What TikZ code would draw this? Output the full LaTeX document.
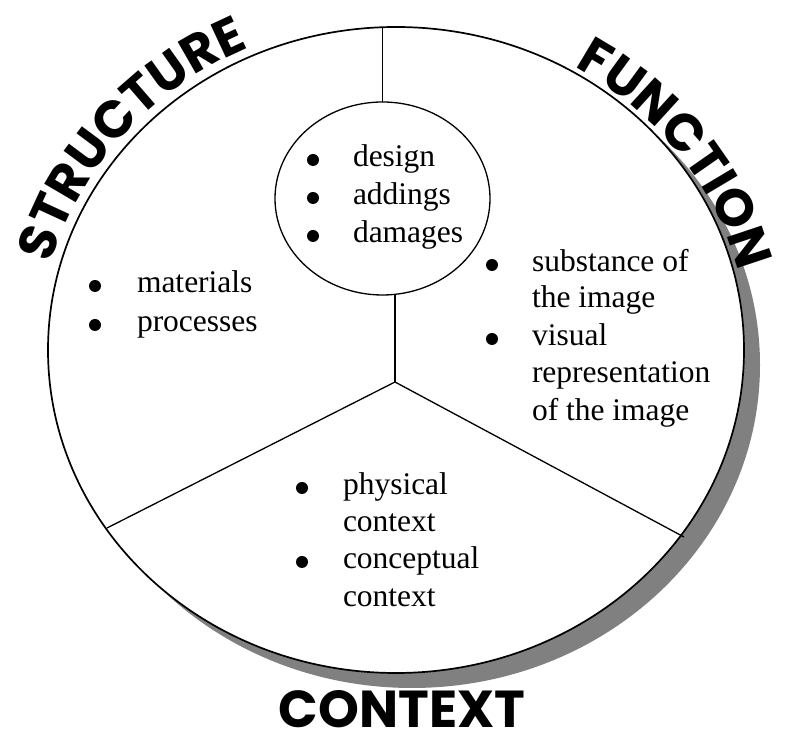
\documentclass[tikz,border=0pt]{standalone}
\usepackage{fontspec}
\setmainfont{Liberation Serif}
\newfontfamily\titlefam{Poppins}
\usetikzlibrary{shapes.geometric,decorations.text}
\newcommand\titlefont{\titlefam\bfseries\fontsize{52}{52}\selectfont}
\newcommand\ctxfont{\titlefam\bfseries\fontsize{52}{52}\selectfont}
\newcommand\bodyfont{\rmfamily\fontsize{31.5}{37.5}\selectfont}
\definecolor{shadowgray}{RGB}{128,128,128}
\tikzset{
  ring/.style={ellipse, draw=black, line width=1.7pt, fill=white, inner sep=0pt, outer sep=0pt},
  divider/.style={line width=1.3pt, draw=black},
  txt/.style={font=\bodyfont, anchor=base west, inner sep=0pt, outer sep=0pt},
  bul/.style={circle, fill=black, minimum size=12pt, inner sep=0pt, outer sep=0pt},
  title/.style={font=\ctxfont, anchor=base, inner sep=0pt}
}
\begin{document}
\begin{tikzpicture}[x=1pt,y=1pt]
\useasboundingbox (0,0) rectangle (796,733);
% shadow
\fill[shadowgray] (412,368) ellipse [x radius=348, y radius=323];
% main disc
\node[ring, minimum width=696pt, minimum height=646pt] (outer) at (396,383) {};
% inner disc
\node[ring, line width=1.3pt, minimum width=215pt, minimum height=193pt] (inner) at (382.5,534.5) {};
% hub and ends
\coordinate (topend) at (382.5,706);
\coordinate (innerbot) at (395,438.5);
\coordinate (hub) at (395,351);
\coordinate (leftend) at (107,205);
\coordinate (rightend) at (684,196);
\draw[divider] (topend) -- (inner.north);
\draw[divider] (innerbot) -- (hub);
\draw[divider] (leftend) -- (hub) -- (rightend);
% inner texts
\node[bul] (b1) at (313,573) {};
\node[txt] (t1) at (353,566) {design};
\node[bul] (b2) at (313,535) {};
\node[txt] (t2) at (353,528) {addings};
\node[bul] (b3) at (313,497) {};
\node[txt] (t3) at (353,490) {damages};
% structure texts
\node[bul] (b4) at (95,447) {};
\node[txt] (t4) at (137,440) {materials};
\node[bul] (b5) at (95,408) {};
\node[txt] (t5) at (137,401) {processes};
% function texts
\node[bul] (b6) at (492,468) {};
\node[txt] (t6) at (532,461) {substance of};
\node[txt] (t7) at (532,425) {the image};
\node[bul] (b8) at (492,394) {};
\node[txt] (t8) at (532,387) {visual};
\node[txt] (t9) at (532,350) {representation};
\node[txt] (t10) at (532,312) {of the image};
% context texts
\node[bul] (b11) at (302,245) {};
\node[txt] (t11) at (343,238) {physical};
\node[txt] (t12) at (343,201) {context};
\node[bul] (b13) at (302,171) {};
\node[txt] (t13) at (343,164) {conceptual};
\node[txt] (t14) at (343,126) {context};
% titles
\path[decorate, decoration={text along path, text={|\titlefont|STRUCTURE}, text align=center}]
  (396,383) ++(192:357 and 332) arc[start angle=192, end angle=89, x radius=357, y radius=332];
\path[decorate, decoration={text along path, text={|\titlefont|FUNCTION}, text align=center}]
  (396,383) ++(82:353 and 328) arc[start angle=82, end angle=-10, x radius=353, y radius=328];
\node[title] (ctx) at (402,5) {CONTEXT};
\end{tikzpicture}
\end{document}
